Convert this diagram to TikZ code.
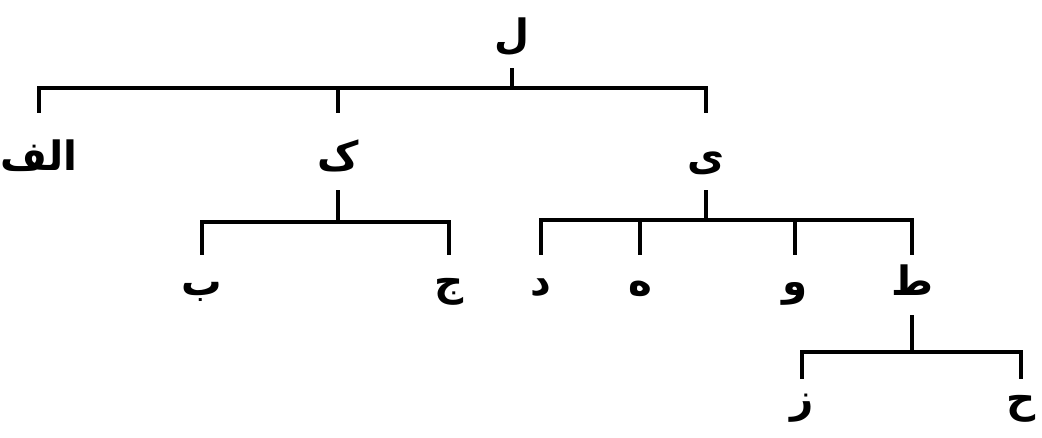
\documentclass[tikz,border=0pt]{standalone}
\usepackage{fontspec}
\newfontfamily\arabicfont[Script=Arabic]{DejaVu Sans}
\TeXXeTstate=1
\usepackage{tikz}
\usetikzlibrary{positioning}

\tikzset{
  harf/.style={font=\arabicfont\bfseries\fontsize{23}{27}\selectfont, inner sep=0pt,
    text height=#1, text depth=0.4cm, anchor=base,
    execute at begin node=\beginR, execute at end node=\endR},
  shakh/.style={line width=2.2pt}
}

\begin{document}
\begin{tikzpicture}[x=0.02cm, y=-0.02cm]
    \useasboundingbox (0,0) rectangle (1042,437);
    \node[harf=0.5cm] (lam) at (512,48) {ل};
    \node[harf=1.14cm] (alef) at (39,170) {الف};
    \node[harf=1.14cm] (kaf) at (338,170) {ک};
    \node[harf=1.14cm] (ye) at (706,170) {ی};
    \node[harf=0.8cm] (be) at (202,295) {ب};
    \node[harf=0.8cm] (jim) at (449,295) {ج};
    \node[harf=0.8cm] (dal) at (541,295) {د};
    \node[harf=0.8cm] (he) at (640,295) {ه};
    \node[harf=0.8cm] (vav) at (795,295) {و};
    \node[harf=0.8cm] (ta) at (912,295) {ط};
    \node[harf=0.66cm] (ze) at (802,412) {ز};
    \node[harf=0.66cm] (hha) at (1021,412) {ح};
    \coordinate (lamBar) at (512,88);
    \coordinate (kafBar) at (338,222);
    \coordinate (yeBar) at (706,220);
    \coordinate (taBar) at (912,352);
    % level 1
    \draw[shakh] (lam.south) -- (lamBar);
    \draw[shakh] (alef.north) -- (alef.north |- lamBar) -- (ye.north |- lamBar) -- (ye.north);
    \draw[shakh] (kaf.north) -- (kaf.north |- lamBar);
    % under kaf
    \draw[shakh] (kaf.south) -- (kafBar);
    \draw[shakh] (be.north) -- (be.north |- kafBar) -- (jim.north |- kafBar) -- (jim.north);
    % under ye
    \draw[shakh] (ye.south) -- (yeBar);
    \draw[shakh] (dal.north) -- (dal.north |- yeBar) -- (ta.north |- yeBar) -- (ta.north);
    \draw[shakh] (he.north) -- (he.north |- yeBar);
    \draw[shakh] (vav.north) -- (vav.north |- yeBar);
    % under ta
    \draw[shakh] (ta.south) -- (taBar);
    \draw[shakh] (ze.north) -- (ze.north |- taBar) -- (hha.north |- taBar) -- (hha.north);
\end{tikzpicture}
\end{document}
